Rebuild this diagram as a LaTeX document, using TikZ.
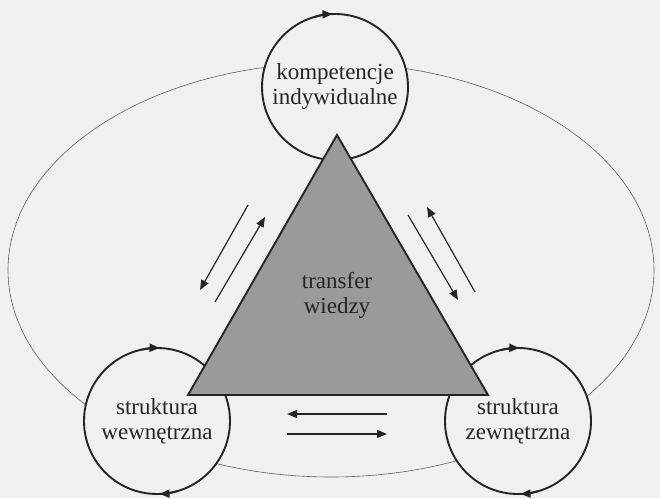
\documentclass[tikz,border=0pt]{standalone}
\usepackage{fontspec}
\setmainfont{Liberation Serif}
\newfontfamily\timesfont{Liberation Serif}
\usepackage{tikz}
\usetikzlibrary{arrows.meta,positioning,calc}
\definecolor{ink}{HTML}{252525}
\definecolor{paper}{HTML}{F0F0EE}
\definecolor{wedge}{HTML}{9A9A9A}
\definecolor{orbit}{HTML}{5E5E5E}
\tikzset{
  pole/.style={circle,draw=ink,line width=1.9pt,fill=paper,minimum size=146pt,
    inner sep=0pt,align=center,font=\timesfont\fontsize{23}{25}\selectfont,text=ink},
  hub/.style={draw=ink,line width=1.9pt,fill=wedge},
  hubtext/.style={align=center,font=\timesfont\fontsize{23}{25}\selectfont,text=ink},
  flow/.style={-{Triangle[length=10pt,width=8pt]},line width=1.2pt,draw=ink},
  spin/.style={-{Triangle[length=10pt,width=8pt]},line width=1.9pt,draw=ink},
  orbitline/.style={draw=orbit,line width=0.6pt},
}

\begin{document}
\begin{tikzpicture}[x=1pt,y=1pt]
  \fill[paper] (0,0) rectangle (660,498);
  \useasboundingbox (0,0) rectangle (660,498);
  % outer orbit
  \draw[orbitline] (331,228) ellipse [x radius=323,y radius=207];
  % the three poles
  \node[pole] (ki) at (335,411) {kompetencje\\indywidualne};
  \node[pole] (sw) at (157,77) {struktura\\wewnętrzna};
  \node[pole] (sz) at (518,77) {struktura\\zewnętrzna};
  \draw[spin] ([shift={(106:73pt)}]ki.center) arc (106:92:73pt);
  \draw[spin] ([shift={(102:73pt)}]sw.center) arc (102:88:73pt);
  \draw[spin] ([shift={(-74:73pt)}]sw.center) arc (-74:-88:73pt);
  \draw[spin] ([shift={(103:73pt)}]sz.center) arc (103:89:73pt);
  \draw[spin] ([shift={(-74:73pt)}]sz.center) arc (-74:-88:73pt);
  % triangle
  \filldraw[hub] (337,363) -- (488,103) -- (188,103) -- cycle;
  \node[hubtext] (tw) at (337,203) {transfer\\wiedzy};
  % exchange arrows
  \coordinate (l1a) at (248,293); \coordinate (l1b) at (200,208);
  \coordinate (l2a) at (215,196); \coordinate (l2b) at (265,281);
  \coordinate (r1a) at (475,206); \coordinate (r1b) at (427,291);
  \coordinate (r2a) at (408,283); \coordinate (r2b) at (458,198);
  \coordinate (b1a) at (387,84);  \coordinate (b1b) at (287,84);
  \coordinate (b2a) at (287,64);  \coordinate (b2b) at (387,64);
  \foreach \s/\e in {l1a/l1b,l2a/l2b,r1a/r1b,r2a/r2b,b1a/b1b,b2a/b2b}
    \draw[flow] (\s) -- (\e);
\end{tikzpicture}
\end{document}
